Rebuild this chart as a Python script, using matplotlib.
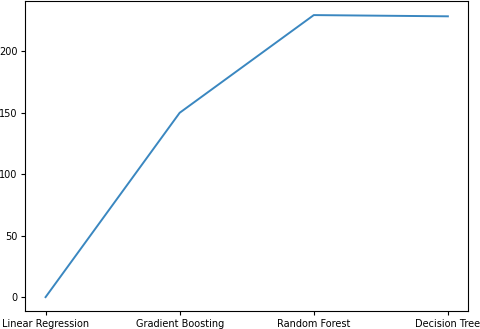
import matplotlib
matplotlib.use("Agg")
import matplotlib.pyplot as plt

models = ["Linear Regression", "Gradient Boosting", "Random Forest", "Decision Tree"]
scores = [0, 150, 229.5, 228.5]


def main() -> None:
    fig = plt.figure(figsize=(4.8, 3.29), dpi=100)
    ax = fig.add_axes([0.053, 0.054, 0.922, 0.943])
    ax.plot(models, scores, color="#3a87c0", linewidth=1.4)
    ax.set_yticks([0, 50, 100, 150, 200])
    ax.tick_params(labelsize=7, length=3, pad=2.5)
    fig.savefig("out.png", dpi=100)
    plt.close(fig)


if __name__ == "__main__":
    main()
